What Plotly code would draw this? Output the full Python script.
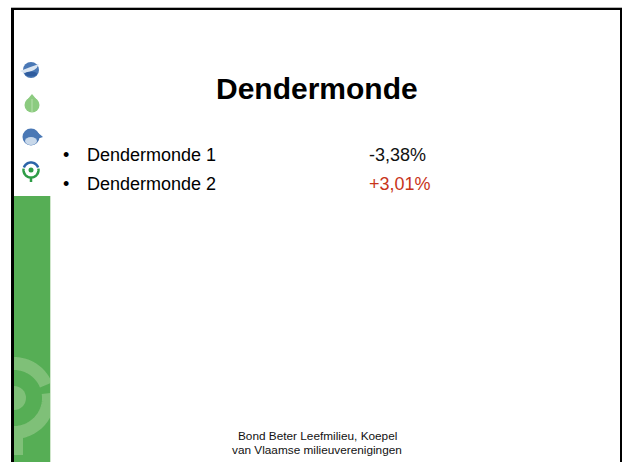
import math
import plotly.graph_objects as go

title = "Dendermonde"
labels = ["Dendermonde 1", "Dendermonde 2"]
values = ["-3,38%", "+3,01%"]
value_colors = ["#111111", "#c8341a"]
footer = ["Bond Beter Leefmilieu, Koepel", "van Vlaamse milieuverenigingen"]

FONT = "Liberation Sans, Arial, sans-serif"
shapes = []


def rect(x0, y0, x1, y1, color):
    shapes.append(dict(type="rect", x0=x0, y0=y0, x1=x1, y1=y1, fillcolor=color, line_width=0, layer="above"))


def circle(cx, cy, r, color, rx=None):
    rx = r if rx is None else rx
    shapes.append(dict(type="circle", x0=cx - rx, y0=cy - r, x1=cx + rx, y1=cy + r, fillcolor=color, line_width=0, layer="above"))


def stroke(path, color, width):
    shapes.append(dict(type="path", path=path, line=dict(color=color, width=width), layer="above"))


def fill(path, color):
    shapes.append(dict(type="path", path=path, fillcolor=color, line_width=0, layer="above"))


def arc(cx, cy, r, a0, a1, color, width):
    n = 40
    pts = []
    for i in range(n + 1):
        a = math.radians(a0 + (a1 - a0) * i / n)
        pts.append(f"{cx + r * math.cos(a):.2f} {cy + r * math.sin(a):.2f}")
    stroke("M " + " L ".join(pts), color, width)


# green side band with watermark
rect(14, 196, 50, 462, "#56ae55")
ring = "#7fc078"
arc(14, 398, 34.5, -90, -22, ring, 13)
arc(14, 398, 34.5, -8, 90, ring, 13)
fill("M 14 428 L 23 428 L 23 455 L 14 455 Z", ring)
circle(14, 398, 12, ring)
rect(50, 340, 60, 445, "#ffffff")
rect(50, 196, 51, 462, "#cfe6cb")
rect(0, 340, 11, 462, "#ffffff")

# icons
circle(31, 70, 8, "#4a78b5")
fill("M 20 71 Q 30 67 39 64 Q 36 72 24 73 Z", "#dbe6f2")
circle(31, 74, 2.5, "#2f5c9e", rx=6)
circle(32, 105, 7.5, "#8ccb80")
fill("M 32 94 L 27 100 L 37 100 Z", "#8ccb80")
stroke("M 32 99 L 32 112", "#b9e0ae", 1)
circle(31, 137, 8.5, "#4a78b5")
fill("M 37 132 L 43 137 L 37 139 Z", "#4a78b5")
circle(31, 141, 4, "#c8d8ea", rx=6)
arc(31, 170, 7.5, 200, 340, "#2b64a8", 2.5)
arc(31, 170, 7.5, -10, 190, "#2e9c46", 2.5)
circle(31, 170, 2.5, "#2e9c46")
stroke("M 31 177 L 31 182", "#2e9c46", 2.5)

# frame
rect(11, 7, 622, 8, "#b5b5b5")
rect(11, 8, 622, 10, "#000000")
rect(11, 8, 14, 462, "#000000")
rect(620, 8, 622, 462, "#000000")

ann = [dict(x=317, y=88, text=f"<b>{title}</b>", font=dict(size=30, color="#000000", family=FONT), xanchor="center", yanchor="middle", showarrow=False)]
for label, value, color, y in zip(labels, values, value_colors, [155, 184]):
    ann.append(dict(x=66, y=y, text="•", font=dict(size=18, color="#000000", family=FONT), xanchor="center", yanchor="middle", showarrow=False))
    ann.append(dict(x=85, y=y, text=label, font=dict(size=18, color="#000000", family=FONT), xanchor="left", yanchor="middle", showarrow=False))
    ann.append(dict(x=367, y=y, text=value, font=dict(size=18, color=color, family=FONT), xanchor="left", yanchor="middle", showarrow=False))
for line, y in zip(footer, [436, 450]):
    ann.append(dict(x=317, y=y, text=line, font=dict(size=11.8, color="#111111", family=FONT), xanchor="center", yanchor="middle", showarrow=False))

fig = go.Figure()
fig.update_layout(
    width=622, height=462, margin=dict(l=0, r=0, t=0, b=0),
    paper_bgcolor="#ffffff", plot_bgcolor="#ffffff", showlegend=False,
    xaxis=dict(range=[0, 622], visible=False, fixedrange=True),
    yaxis=dict(range=[462, 0], visible=False, fixedrange=True),
    shapes=shapes, annotations=ann,
)
fig.write_html(
    "out.html",
    config=dict(displayModeBar=False),
    post_script="document.body.style.margin='0';document.documentElement.style.overflow='hidden';",
)
